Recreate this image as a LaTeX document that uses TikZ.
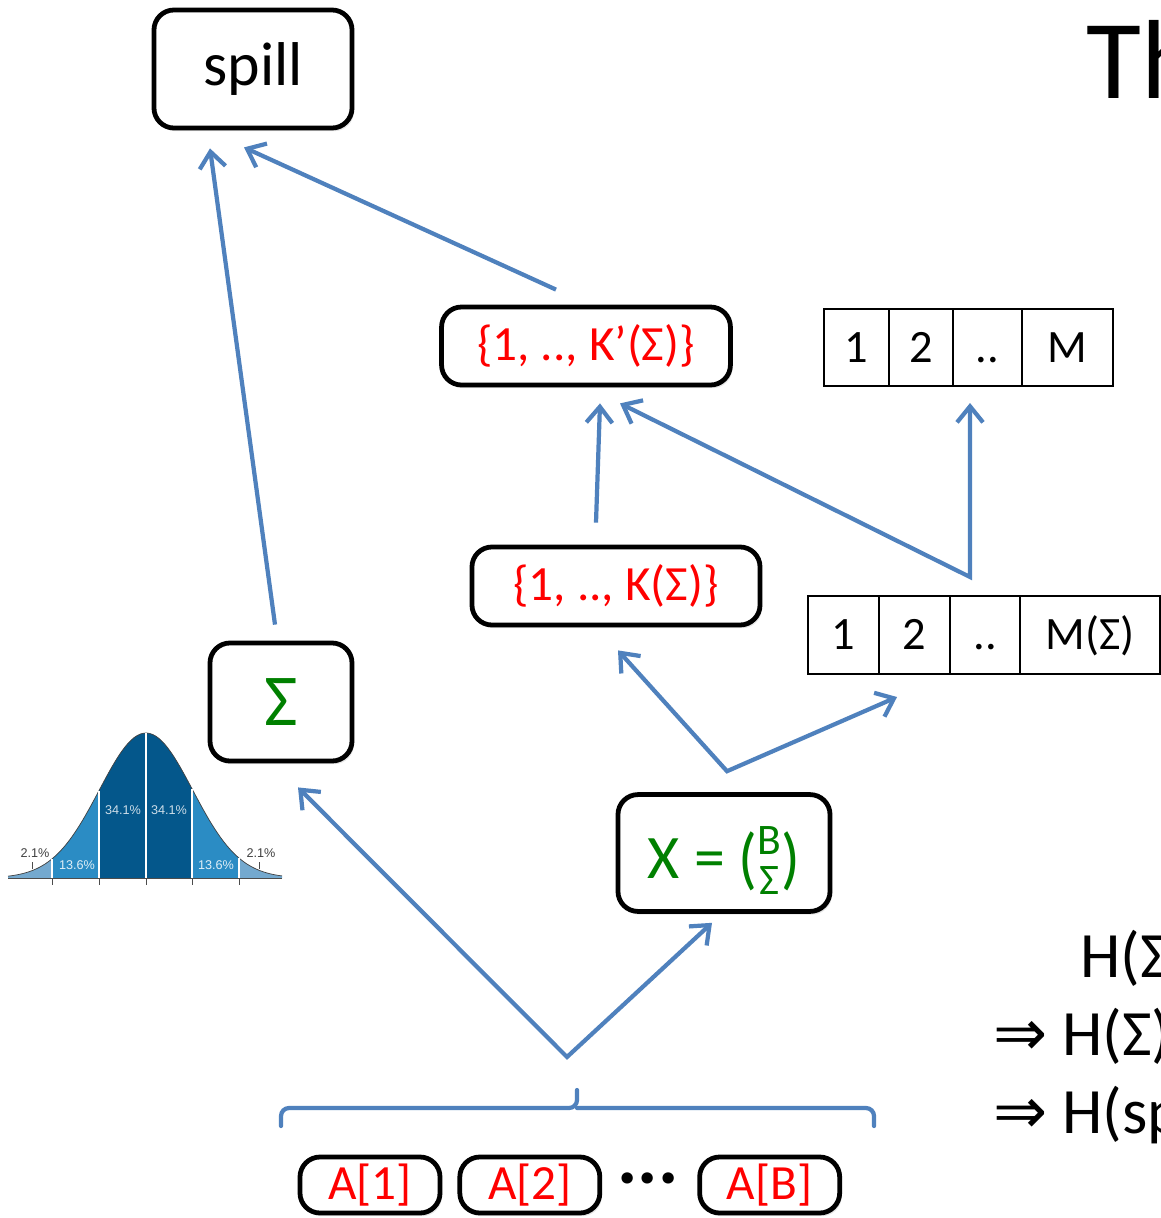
\documentclass[tikz,border=0pt]{standalone}
\usepackage{fontspec}
\setmainfont{Carlito}
\newfontfamily\chartfont{Liberation Sans}
\newfontfamily\arrowfont{DejaVu Sans}
\usepackage{graphicx}
\usetikzlibrary{positioning,arrows.meta,shadows}

\definecolor{arrblue}{RGB}{79,129,189}
\definecolor{sgreen}{RGB}{0,128,0}
\definecolor{nddark}{RGB}{4,87,139}
\definecolor{ndmid}{RGB}{43,140,196}
\definecolor{ndlight}{RGB}{116,169,207}

\begin{document}
\begin{tikzpicture}[x=0.025cm, y=-0.025cm,
  every node/.style={font=\fontsize{34}{40}\selectfont},
  bx/.style={draw=black, line width=3.4pt, rounded corners=0.5cm, fill=white, inner sep=0pt,
    drop shadow={opacity=0.2, shadow xshift=0.5mm, shadow yshift=-0.8mm}},
  settxt/.style={text=red, font=\fontsize{35}{40}\selectfont},
  cell/.style={draw=black, line width=1.4pt, outer sep=0pt, inner sep=0pt,
    text height=21pt, text depth=0pt, font=\fontsize{33}{40}\selectfont},
  >={Straight Barb[length=4mm, width=6.5mm]},
  arr/.style={->, line width=3pt, draw=arrblue},
  fork/.style={<->, line width=3pt, draw=arrblue, line join=miter},
  brc/.style={draw=arrblue, line width=3pt, rounded corners=0.2cm, line cap=round},
  ndtxt/.style={font=\chartfont\fontsize{9}{10}\selectfont, inner sep=0pt}
]
\useasboundingbox (0,0) rectangle (1161,1218);
\clip (0,0) rectangle (1161,1218);
\fill[white] (0,0) rectangle (1161,1218);

% Boxes
\node[bx, minimum width=4.95cm, minimum height=2.95cm, font=\fontsize{44}{50}\selectfont] (spill) at (253,69) {spill};
\node[bx, settxt, minimum width=7.22cm, minimum height=1.95cm] (kp) at (586,346) {\{1, .., K’(Σ)\}};
\node[bx, settxt, minimum width=7.2cm, minimum height=1.95cm] (k) at (616,586) {\{1, .., K(Σ)\}};
\node[bx, minimum width=3.55cm, minimum height=2.95cm, text=sgreen, font=\fontsize{52}{56}\selectfont] (sig) at (281,702) {Σ};
\node[bx, minimum width=5.3cm, minimum height=2.92cm, text=sgreen, font=\fontsize{44}{50}\selectfont,
  text height=40pt, text depth=4.4pt] (xb) at (724,853)
  {X = \raisebox{-0.06em}{\scalebox{1}[1.1]{(}}\raisebox{-12pt}{\fontsize{31}{28.5}\selectfont\begin{tabular}[b]{@{}c@{}}B\\Σ\end{tabular}}\raisebox{-0.06em}{\scalebox{1}[1.1]{)}}};

% Arrays
\node[cell, minimum width=1.625cm, minimum height=1.925cm] (u1) at (856.5,347.5) {1};
\node[cell, minimum width=1.6cm, minimum height=1.925cm, right=0pt of u1] (u2) {2};
\node[cell, minimum width=1.725cm, minimum height=1.925cm, right=0pt of u2] (u3) {..};
\node[cell, minimum width=2.275cm, minimum height=1.925cm, right=0pt of u3] (u4) {M};

\node[cell, minimum width=1.775cm, minimum height=1.95cm] (l1) at (843.5,635) {1};
\node[cell, minimum width=1.775cm, minimum height=1.95cm, right=0pt of l1] (l2) {2};
\node[cell, minimum width=1.75cm, minimum height=1.95cm, right=0pt of l2] (l3) {..};
\node[cell, minimum width=3.5cm, minimum height=1.95cm, right=0pt of l3] (l4) {M(Σ)};

% Inputs
\node[bx, settxt, minimum width=3.5cm, minimum height=1.4cm] (a1) at (370,1185) {A[1]};
\node[bx, settxt, minimum width=3.5cm, minimum height=1.4cm, right=0.375cm of a1] (a2) {A[2]};
\node[font=\bfseries\fontsize{54}{60}\selectfont, inner sep=0pt] (dots) at (648,1178) {...};
\node[bx, settxt, minimum width=3.5cm, minimum height=1.4cm, right=2.375cm of a2] (ab) {A[B]};

% Brace over the inputs
\coordinate (btip) at (577,1090);
\draw[brc] (281,1126) -- (281,1108) -- (577,1108) -- (btip);
\draw[brc] (874,1126) -- (874,1108) -- (577,1108);

% Fork points
\coordinate (f1) at ([shift={(-15,-19)}]l3.north);
\coordinate (f2) at ([shift={(3,-21)}]xb.north);
\coordinate (f3) at ([shift={(-10,-33)}]btip);

% Arrows
\draw[arr] ([shift={(-6,-16)}]sig.north) -- ([shift={(-43,18)}]spill.south);
\draw[arr] ([shift={(-30,-15)}]kp.north) -- ([shift={(-9,17)}]spill.south);
\draw[arr] ([shift={(-20,-22)}]k.north) -- ([shift={(14,16)}]kp.south);
\draw[fork] ([shift={(34,16)}]kp.south) -- (f1) -- ([shift={(-17.5,17)}]u3.south);
\draw[fork] ([shift={(2,23)}]k.south) -- (f2) -- ([shift={(-17.5,23)}]l2.south);
\draw[fork] ([shift={(17,24)}]sig.south) -- (f3) -- ([shift={(-12,9)}]xb.south);

% Normal distribution
\foreach \a/\b/\c in {8/52/ndlight, 52/99/ndmid, 99/192/nddark, 192/239/ndmid, 239/282/ndlight}
  \fill[\c] plot[domain=\a:\b, samples=30] (\x,{878-145*exp(-((\x-146)/46.7)^2/2)}) -- (\b,878) -- (\a,878) -- cycle;
\draw[black!75, line width=0.5pt] plot[domain=8:282, samples=90] (\x,{878-145*exp(-((\x-146)/46.7)^2/2)});
\foreach \p in {52,99,146,192,239}
  \draw[white, line width=0.8pt] (\p,878) -- (\p,{878-145*exp(-((\p-146)/46.7)^2/2)});
\draw[black!70, line width=0.6pt] (8,878) -- (282,878);
\foreach \p in {52,99,146,192,239}
  \draw[black!70, line width=0.6pt] (\p,878) -- (\p,885);
\foreach \p in {32,259}
  \draw[black!70, line width=0.6pt] (\p,862) -- (\p,869);
\node[ndtxt, text=black!75] (p1) at (35,853) {2.1\%};
\node[ndtxt, text=white!85!ndmid] (p2) at (77,865) {13.6\%};
\node[ndtxt, text=white!80!nddark] (p3) at (123,810) {34.1\%};
\node[ndtxt, text=white!80!nddark] (p4) at (169,810) {34.1\%};
\node[ndtxt, text=white!85!ndmid] (p5) at (216,865) {13.6\%};
\node[ndtxt, text=black!75] (p6) at (261,853) {2.1\%};

% Text on the right
\node[anchor=base west, inner sep=0pt, font=\fontsize{80}{90}\selectfont] (ttl) at (1086,98) {Th};
\node[anchor=base west, inner sep=0pt, font=\fontsize{46}{50}\selectfont] (h1) at (1080,977) {H(Σ)};
\node[anchor=base west, inner sep=0pt, font=\fontsize{46}{50}\selectfont] (h2) at (993,1055) {{\arrowfont ⇒} H(Σ)};
\node[anchor=base west, inner sep=0pt, font=\fontsize{46}{50}\selectfont] (h3) at (993,1133) {{\arrowfont ⇒} H(sp};
\end{tikzpicture}
\end{document}
